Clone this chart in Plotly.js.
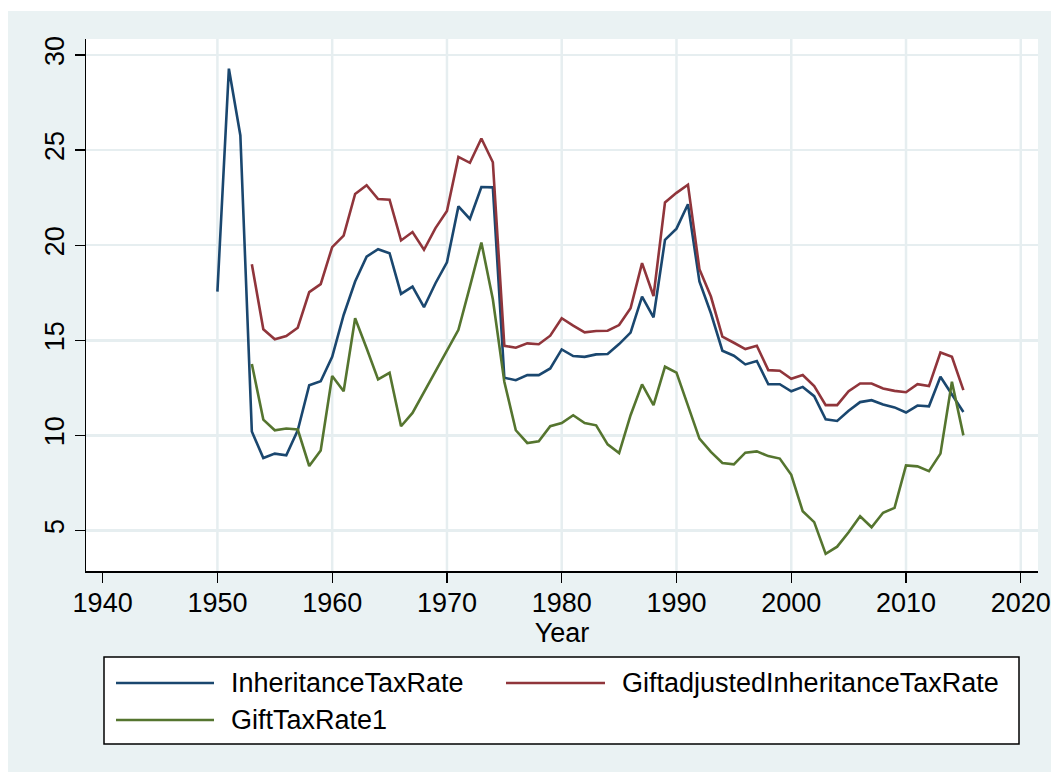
<!DOCTYPE html>
<html><head><meta charset="utf-8">
<script src="https://cdn.plot.ly/plotly-3.0.1.min.js"></script>
<style>
html,body{margin:0;padding:0;background:#ffffff;width:1051px;height:772px;overflow:hidden}
#chart{position:absolute;left:8px;top:11px;width:1043px;height:761px}
</style>
</head><body><div id="chart"></div>
<script>
const years = [1950,1951,1952,1953,1954,1955,1956,1957,1958,1959,
  1960,1961,1962,1963,1964,1965,1966,1967,1968,1969,
  1970,1971,1972,1973,1974,1975,1976,1977,1978,1979,
  1980,1981,1982,1983,1984,1985,1986,1987,1988,1989,
  1990,1991,1992,1993,1994,1995,1996,1997,1998,1999,
  2000,2001,2002,2003,2004,2005,2006,2007,2008,2009,
  2010,2011,2012,2013,2014,2015];

const inheritanceTaxRate = [17.56,29.28,25.77,10.2,8.81,9.04,8.95,10.27,12.64,12.85,
  14.13,16.33,18.09,19.40,19.79,19.58,17.44,17.82,16.74,18.0,
  19.1,22.04,21.38,23.06,23.04,13.03,12.90,13.17,13.17,13.52,
  14.52,14.17,14.13,14.26,14.28,14.80,15.40,17.30,16.21,20.28,
  20.87,22.15,18.09,16.42,14.45,14.19,13.73,13.91,12.69,12.69,
  12.32,12.55,12.06,10.85,10.76,11.30,11.75,11.85,11.62,11.47,
  11.20,11.57,11.53,13.08,12.15,11.23];

const giftAdjustedInheritanceTaxRate = [null,null,null,19.0,15.58,15.05,15.22,15.66,17.53,17.95,
  19.9,20.50,22.69,23.15,22.43,22.39,20.25,20.69,19.76,20.90,
  21.80,24.64,24.33,25.61,24.36,14.71,14.61,14.84,14.79,15.24,
  16.16,15.77,15.42,15.49,15.50,15.80,16.68,19.06,17.33,22.25,
  22.75,23.18,18.74,17.30,15.19,14.87,14.54,14.71,13.43,13.40,
  12.98,13.17,12.59,11.59,11.59,12.32,12.73,12.73,12.47,12.34,
  12.27,12.69,12.59,14.36,14.13,12.38];

const giftTaxRate1 = [null,null,null,13.75,10.83,10.27,10.36,10.31,8.39,9.21,
  13.12,12.32,16.16,14.58,12.94,13.29,10.48,11.18,12.27,13.36,
  14.48,15.55,17.82,20.14,17.16,12.82,10.27,9.60,9.69,10.48,
  10.65,11.06,10.65,10.53,9.53,9.07,11.06,12.68,11.59,13.61,
  13.30,11.57,9.83,9.13,8.55,8.48,9.09,9.16,8.91,8.78,
  7.93,6.01,5.44,3.77,4.15,4.91,5.75,5.17,5.93,6.19,
  8.42,8.37,8.12,9.04,12.82,10.0];

const seriesNames = ["InheritanceTaxRate","GiftadjustedInheritanceTaxRate","GiftTaxRate1"];
const seriesColors = ["#1a476f","#90353b","#55752f"];
const xTickVals = [1940,1950,1960,1970,1980,1990,2000,2010,2020];
const xGridVals = [1950,1960,1970,1980,1990,2000,2010,2020];
const yTickVals = [5,10,15,20,25,30];

const FONT = "Liberation Sans, Arial, Helvetica, sans-serif";
const GRID = "#e6eef0";
const FS = 27;

const seriesData = [inheritanceTaxRate, giftAdjustedInheritanceTaxRate, giftTaxRate1];
const traces = seriesData.map((vals, i) => ({
  type: "scatter", mode: "lines", x: years, y: vals, name: seriesNames[i],
  line: {color: seriesColors[i], width: 2.6}, connectgaps: false,
  showlegend: false, hoverinfo: "x+y"
}));

// plot area geometry (page px) for placing the hand-built legend
const M = {l: 78, r: 13, t: 28, b: 201};
const W = 1043, H = 761, OX = 8, OY = 11;
const PL = OX + M.l, PW = W - M.l - M.r, PT = OY + M.t, PH = H - M.t - M.b;
const px = X => (X - PL) / PW;
const py = Y => (PT + PH - Y) / PH;

const shapes = [];
xGridVals.forEach(v => shapes.push({
  type: "line", xref: "x", yref: "paper", x0: v, x1: v, y0: 0, y1: 1,
  line: {color: GRID, width: 2.5}, layer: "below"
}));
// legend box
shapes.push({type: "rect", xref: "paper", yref: "paper",
  x0: px(104), x1: px(1019), y0: py(657), y1: py(744),
  line: {color: "#000000", width: 1.5}, fillcolor: "#ffffff", layer: "above"});

const legendPos = [
  {lx0: 116, lx1: 214, tx: 230, y: 683},
  {lx0: 506, lx1: 605, tx: 621, y: 683},
  {lx0: 116, lx1: 214, tx: 230, y: 720}
];
const annotations = [];
legendPos.forEach((p, i) => {
  shapes.push({type: "line", xref: "paper", yref: "paper",
    x0: px(p.lx0), x1: px(p.lx1), y0: py(p.y), y1: py(p.y),
    line: {color: seriesColors[i], width: 2.6}, layer: "above"});
  annotations.push({xref: "paper", yref: "paper", x: px(p.tx), y: py(p.y),
    xanchor: "left", yanchor: "middle", showarrow: false, text: seriesNames[i],
    font: {family: FONT, size: FS, color: "#000000"}, borderpad: 0});
});

const layout = {
  width: W, height: H,
  margin: M,
  paper_bgcolor: "#eaf2f3",
  plot_bgcolor: "#ffffff",
  font: {family: FONT, size: FS, color: "#000000"},
  showlegend: false,
  xaxis: {
    range: [1938.55, 2021.5], tickmode: "array", tickvals: xTickVals,
    ticks: "outside", ticklen: 10, tickwidth: 1.3, tickcolor: "#000000",
    ticklabelstandoff: -3,
    showline: true, linecolor: "#000000", linewidth: 1.5,
    showgrid: false, zeroline: false,
    tickfont: {family: FONT, size: FS, color: "#000000"},
    title: {text: "Year", font: {family: FONT, size: FS, color: "#000000"}, standoff: 0}
  },
  yaxis: {
    range: [2.87, 30.84], tickmode: "array", tickvals: yTickVals,
    tickangle: -90,
    ticks: "outside", ticklen: 10, tickwidth: 1.3, tickcolor: "#000000",
    showline: true, linecolor: "#000000", linewidth: 1.5,
    showgrid: true, gridcolor: GRID, gridwidth: 2.5, zeroline: false,
    tickfont: {family: FONT, size: FS, color: "#000000"}
  },
  shapes: shapes,
  annotations: annotations
};

Plotly.newPlot("chart", traces, layout, {displayModeBar: false, staticPlot: true});
</script>
</body></html>
